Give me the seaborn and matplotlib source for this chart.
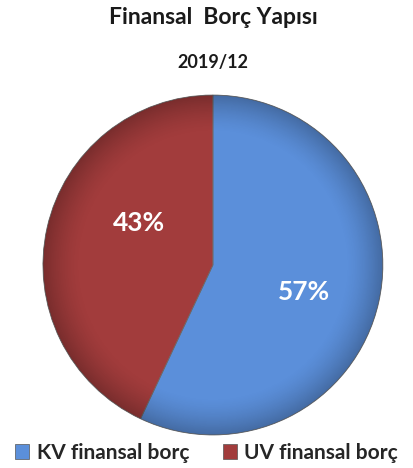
import matplotlib
matplotlib.use("Agg")
import matplotlib.pyplot as plt
import numpy as np
import seaborn as sns
from matplotlib.patches import Patch

categories = ["KV finansal borç", "UV finansal borç"]
values = [57, 43]
title = "Finansal  Borç Yapısı"
subtitle = "2019/12"

sns.set_theme(style="white")
plt.rcParams['font.family'] = ['Lato', 'DejaVu Sans']
colors = sns.color_palette(["#5B8FDA", "#A23C3C"])

fig = plt.figure(figsize=(4.13, 4.68), dpi=100)
ax = fig.add_axes([0.104, 0.0705, 0.823, 0.7265])
wedges, texts, autotexts = ax.pie(
    values, colors=colors, startangle=90, counterclock=False,
    autopct=lambda p: f"{p:.0f}%", pctdistance=0.55,
    wedgeprops=dict(edgecolor="#6a6a6a", linewidth=0.6),
    textprops=dict(color="white", fontsize=19, fontweight="bold"))
x, y = autotexts[0].get_position()
autotexts[0].set_position((x, y - 0.04))
x, y = autotexts[1].get_position()
autotexts[1].set_position((x + 0.1, y + 0.13))
ax.set_xlim(-1.0, 1.0)
ax.set_ylim(-1.0, 1.0)
ax.set_aspect("equal")

# subtle radial shading
yy, xx = np.mgrid[-1:1:300j, -1:1:300j]
r = np.sqrt(xx**2 + yy**2)
shade = np.clip((r - 0.78) / 0.22, 0, 1) ** 1.5
overlay = np.zeros((300, 300, 4))
overlay[..., 3] = 0.25 * shade
for w in wedges:
    im = ax.imshow(overlay, extent=(-1, 1, -1, 1), origin="lower", zorder=3)
    im.set_clip_path(w)
for t in autotexts:
    t.set_zorder(5)

fig.text(0.516, 0.963, title, ha="center", va="center", fontsize=16.5, fontweight="bold", color="#1a1a1a")
fig.text(0.516, 0.866, subtitle, ha="center", va="center", fontsize=13, fontweight="bold", color="#1a1a1a")

handles = [Patch(facecolor=c, edgecolor="#555555", linewidth=0.5) for c in colors]
fig.legend(handles, categories, loc="center", bbox_to_anchor=(0.5, 0.032), ncol=2,
           frameon=False, prop=dict(weight="bold", size=15),
           handlelength=0.7, handleheight=0.7, handletextpad=0.35, columnspacing=1.6)

fig.savefig("out.png", dpi=100)
